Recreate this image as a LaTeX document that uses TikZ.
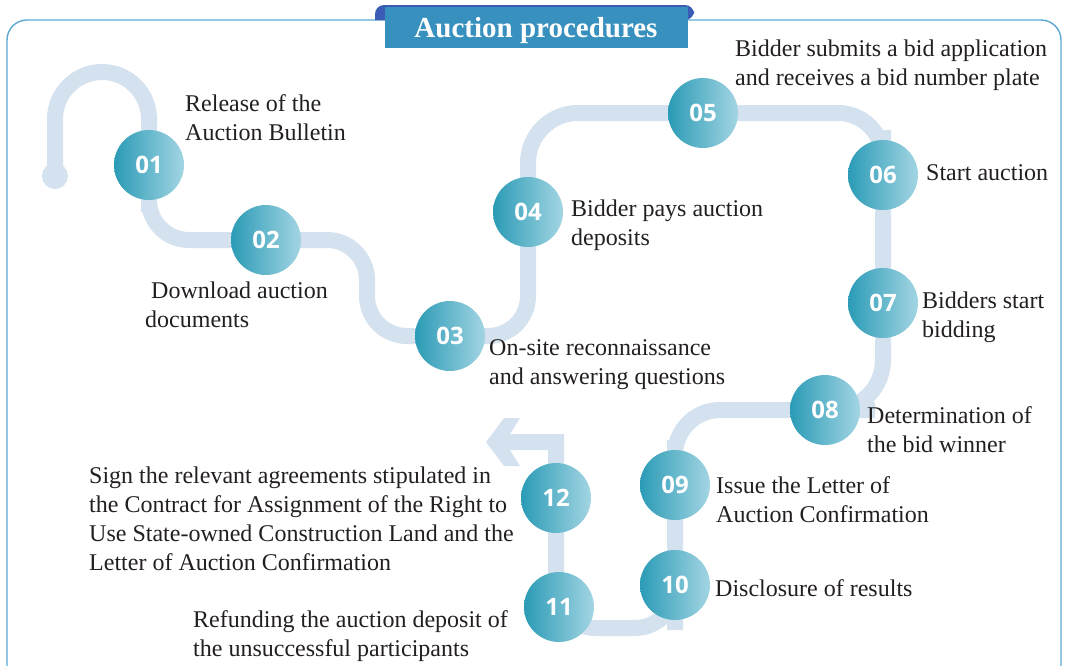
\documentclass[tikz,border=0pt]{standalone}
\usepackage{fontspec}
\setmainfont{Liberation Serif}
\newfontfamily\numfont{Open Sans}
\usetikzlibrary{backgrounds}
\definecolor{ink}{HTML}{231F20}
\definecolor{road}{HTML}{D4E1EE}
\definecolor{rim}{HTML}{5BA9D2}
\definecolor{tabblue}{HTML}{3A5CB4}
\definecolor{titlefill}{HTML}{3790BE}
\definecolor{dotleft}{HTML}{2B9BB6}
\definecolor{dotmid}{HTML}{3E94BB}
\definecolor{dotright}{HTML}{A3D5E3}

\begin{document}
\begin{tikzpicture}[x=1pt,y=-1pt,every node/.style={font=\fontsize{24}{29}\selectfont,text=ink},note/.style={align=left,anchor=north west,inner sep=0pt},stepdot/.style={circle,minimum size=70pt,inner sep=0pt,left color=dotleft,middle color=dotmid,right color=dotright,text=white,font=\numfont\bfseries\fontsize{24}{24}\selectfont},trackline/.style={draw=road,line width=16pt},titlebox/.style={fill=titlefill,minimum width=303pt,minimum height=41pt,inner sep=0pt,text depth=0pt,text=white,font=\bfseries\fontsize{29}{29}\selectfont}]
\useasboundingbox (0,0) rectangle (1066,665);

\foreach \n/\px/\py in {01/149/165,02/266/240,03/450/336,04/528/212,05/703/113,06/883/175,07/883/303,08/825/410,09/675/485,10/675/585,11/559/607,12/556/498}
  \node[stepdot] (s\n) at (\px,\py) {\n};
\node[circle,fill=road,minimum size=26pt,inner sep=0pt] (start) at (55,176) {};
\coordinate (tail) at (505,442);

\begin{scope}[on background layer]
\draw[rim,line width=1.4pt] (7,690) [rounded corners=20pt] |- (1061,20) -- (1061,690);
\draw[trackline] (start.center) [rounded corners=47pt] -- (55,72) -- (149,72) -- (s01.center) [rounded corners=40pt] |- (s02.center) -- (367,240) |- (s03.center) -| (s04.center) [rounded corners=50pt] |- (s05.center) [rounded corners=45pt] -| (s06.center) -- (s07.center) [rounded corners=50pt] |- (s08.center) [rounded corners=45pt] -| (s09.center) -- (s10.center) [rounded corners=40pt] |- (556,628) [sharp corners] -- (556,607) -- (s12.center) |- (tail);
\end{scope}
\fill[road] (tail) ++(-19,0) -- ++(18,-24) -- ++(16,0) -- ++(-15,24) -- ++(15,24) -- ++(-16,0) -- cycle;

\fill[tabblue] (375,20) [rounded corners=9pt] |- (694,5) -- (694,20) [sharp corners] -- cycle;
\node[titlebox] (title) at (536,27) {Auction procedures};

\node[note] (l01) at (185,94) {Release of the\\Auction Bulletin};
\node[note] (l02) at (145,282) {\hspace*{6pt}Download auction\\documents};
\node[note] (l03) at (489,339) {On-site reconnaissance\\and answering questions};
\node[note] (l04) at (571,200) {Bidder pays auction\\deposits};
\node[note] (l05) at (735,40) {Bidder submits a bid application\\and receives a bid number plate};
\node[note] (l06) at (926,164) {Start auction};
\node[note] (l07) at (922,292) {Bidders start\\bidding};
\node[note] (l08) at (867,406) {Determination of\\the bid winner};
\node[note] (l09) at (716,476) {Issue the Letter of\\Auction Confirmation};
\node[note] (l10) at (715,579) {Disclosure of results};
\node[note] (l11) at (193,610) {Refunding the auction deposit of\\the unsuccessful participants};
\node[note] (l12) at (89,467) {Sign the relevant agreements stipulated in\\the Contract for Assignment of the Right to\\Use State-owned Construction Land and the\\Letter of Auction Confirmation};

\end{tikzpicture}
\end{document}
